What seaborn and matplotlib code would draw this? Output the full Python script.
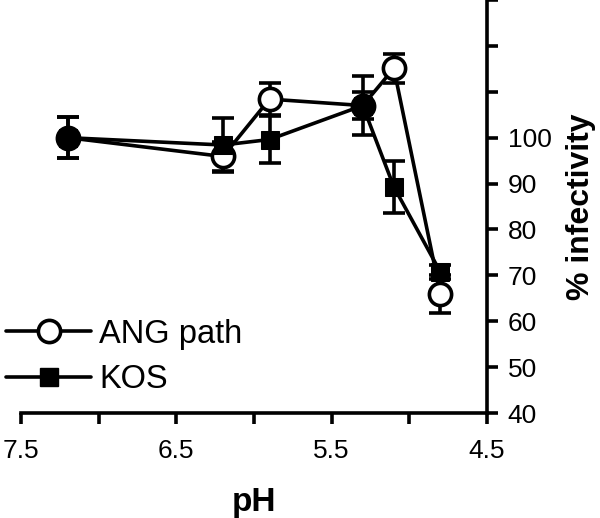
import numpy as np
import pandas as pd
import matplotlib
matplotlib.use("Agg")
import matplotlib.pyplot as plt
from matplotlib.lines import Line2D
import seaborn as sns

# Data
ph = [7.2, 6.2, 5.9, 5.3, 5.1, 4.8]
ang_vals = [100, 95.9, 108.4, 107.0, 115.1, 65.9]
ang_err = [4.5, 3.2, 3.5, 3.0, 3.1, 4.1]
kos_vals = [100, 98.4, 99.6, 107.0, 89.3, 70.7]
kos_err = [4.5, 5.8, 5.2, 6.4, 5.7, 1.5]

x_ticks = [7.5, 7.0, 6.5, 6.0, 5.5, 5.0, 4.5]
x_tick_labels = ["7.5", "", "6.5", "", "5.5", "", "4.5"]
y_ticks = [40, 50, 60, 70, 80, 90, 100, 110, 120, 130]
y_tick_labels = ["40", "50", "60", "70", "80", "90", "100", "", "", ""]

sns.set_style("ticks")
plt.rcParams['font.family'] = ['Liberation Sans', 'DejaVu Sans']
plt.rcParams['text.color'] = 'black'
plt.rcParams['axes.labelcolor'] = 'black'

df = pd.concat([
    pd.DataFrame({"pH": ph, "val": ang_vals, "series": "ANG path"}),
    pd.DataFrame({"pH": ph, "val": kos_vals, "series": "KOS"}),
])

fig = plt.figure(figsize=(6.0, 5.18), dpi=100)
ax = fig.add_axes([0.035, 0.2027, 0.7767, 0.7973])

lw = 2.6
# error bars first
ax.errorbar(ph, ang_vals, yerr=ang_err, fmt="none", ecolor="black",
            elinewidth=lw, capsize=8, capthick=lw, zorder=2)
ax.errorbar(ph, kos_vals, yerr=kos_err, fmt="none", ecolor="black",
            elinewidth=lw, capsize=8, capthick=lw, zorder=2)

sns.lineplot(data=df[df.series == "ANG path"], x="pH", y="val", ax=ax,
             color="black", lw=lw, marker="o", markersize=16,
             markerfacecolor="white", markeredgecolor="black",
             markeredgewidth=lw, zorder=3, legend=False)
sns.lineplot(data=df[df.series == "KOS"], x="pH", y="val", ax=ax,
             color="black", lw=lw, marker="s", markersize=13,
             markerfacecolor="black", markeredgecolor="black",
             zorder=4, legend=False)

ax.set_xlim(7.5, 4.5)
ax.set_ylim(40, 130)
ax.set_xticks(x_ticks)
ax.set_xticklabels(x_tick_labels)
ax.set_yticks(y_ticks)
ax.set_yticklabels(y_tick_labels)

ax.yaxis.tick_right()
ax.yaxis.set_label_position("right")
ax.spines["left"].set_visible(False)
ax.spines["top"].set_visible(False)
for s in ["right", "bottom"]:
    ax.spines[s].set_linewidth(lw)
    ax.spines[s].set_color("black")
ax.tick_params(axis="both", direction="out", length=8, width=lw,
               labelsize=19, colors="black")
ax.tick_params(axis="x", pad=11)
ax.tick_params(axis="y", pad=7)

ax.set_xlabel("pH", fontsize=24, fontweight="bold")
ax.set_ylabel("% infectivity", fontsize=23, fontweight="bold", rotation=90)
ax.xaxis.set_label_coords(0.5, -0.178)
ax.yaxis.set_label_coords(1.17, 0.5)

handles = [
    Line2D([], [], color="black", lw=lw, marker="o", markersize=16,
           markerfacecolor="white", markeredgecolor="black", markeredgewidth=lw),
    Line2D([], [], color="black", lw=lw, marker="s", markersize=13,
           markerfacecolor="black"),
]
ax.legend(handles, ["ANG path", "KOS"], loc="upper left",
          bbox_to_anchor=(-0.06, 0.26), frameon=False, fontsize=23.5,
          handlelength=2.6, handletextpad=0.25, labelspacing=0.45,
          borderaxespad=0)

fig.savefig("out.png", dpi=100)
